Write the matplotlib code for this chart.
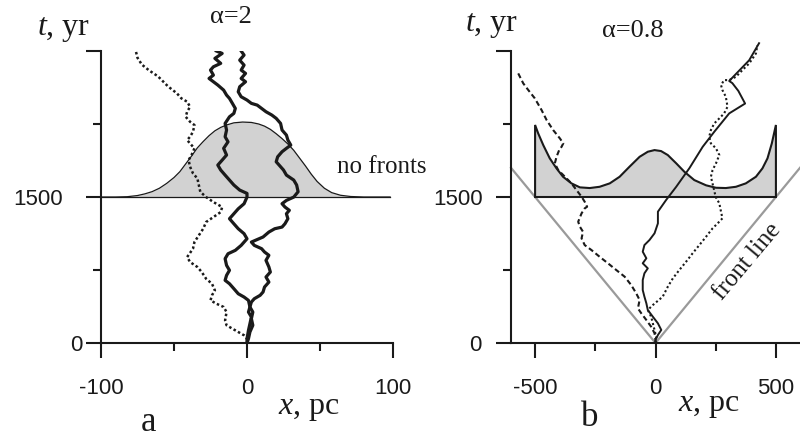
import matplotlib.pyplot as plt

plt.rcParams["font.family"] = ["Liberation Sans", "DejaVu Sans"]
plt.rcParams["mathtext.fontset"] = "custom"
plt.rcParams["mathtext.rm"] = "Liberation Serif"
plt.rcParams["mathtext.it"] = "Liberation Serif:italic"

# ---- panel a (alpha = 2): three walks, x in pc, t in yr (read from the top down)
a_dot_x = [-76, -75, -72, -67, -61, -54, -48, -45, -41, -39, -41, -42, -39, -36, -37, -39, -41, -38, -36,
           -38, -40, -39, -37, -34, -33, -32, -28, -23, -17, -18, -23, -28, -30, -33, -36, -37, -41, -39,
           -34, -31, -28, -24, -22, -24, -25, -21, -16, -14, -15, -14, -10, -6, -2, 0, 0]
a_dot_t = [2990, 2930, 2860, 2800, 2740, 2635, 2565, 2514, 2479, 2427, 2376, 2324, 2273, 2239, 2170, 2119,
           2085, 2033, 2000, 1931, 1879, 1811, 1743, 1691, 1623, 1554, 1499, 1448, 1397, 1345, 1294, 1243,
           1174, 1106, 1037, 969, 883, 832, 781, 729, 660, 609, 541, 490, 438, 404, 370, 318, 233, 182,
           147, 113, 79, 44, 0]

a_mid_x = [-21, -17, -22, -18, -23, -25, -23, -26, -23, -20, -16, -14, -12, -10, -8, -9, -12, -15, -14, -15,
           -13, -16, -14, -17, -20, -18, -15, -12, -9, -5, 0, 0, -2, -6, -9, -12, -9, -6, -2, 0, -4, -8,
           -13, -15, -14, -12, -14, -15, -12, -9, -6, -2, 1, 2, 1, 3, 2, 1, 0, 0]
a_mid_t = [3000, 2975, 2924, 2873, 2838, 2804, 2752, 2718, 2684, 2650, 2598, 2547, 2513, 2462, 2410, 2359,
           2324, 2256, 2188, 2119, 2067, 2000, 1931, 1879, 1828, 1777, 1725, 1674, 1623, 1571, 1537, 1499,
           1431, 1379, 1328, 1277, 1225, 1174, 1123, 1071, 1003, 952, 917, 866, 798, 747, 695, 644, 609,
           558, 506, 472, 438, 370, 318, 267, 198, 130, 44, 0]

a_right_x = [-4, -2, -5, -2, -4, -1, -4, -1, -5, -6, -4, 0, 3, 7, 10, 13, 17, 20, 23, 24, 27, 28, 30, 27,
             24, 21, 20, 23, 25, 27, 32, 34, 35, 32, 27, 24, 26, 29, 27, 28, 26, 24, 19, 15, 11, 3, 5, 10,
             12, 15, 13, 15, 16, 13, 15, 12, 11, 9, 5, 3, 2, 4, 3, 4, 2, 1, 0]
a_right_t = [3000, 2958, 2906, 2855, 2804, 2770, 2718, 2684, 2633, 2581, 2530, 2496, 2462, 2444, 2410, 2376,
             2342, 2308, 2256, 2188, 2136, 2085, 2033, 2000, 1965, 1913, 1862, 1811, 1777, 1725, 1674, 1623,
             1554, 1499, 1465, 1431, 1397, 1363, 1328, 1277, 1225, 1191, 1174, 1140, 1089, 1037, 1003, 969,
             935, 901, 849, 781, 729, 678, 626, 575, 524, 490, 455, 421, 370, 318, 250, 182, 113, 44, 0]

# distribution drawn on the t = 1500 line
a_base_t = 1500
a_dist_x = [-100, -90, -82, -75, -70, -65, -60, -55, -50, -46, -42, -38, -34, -30, -26, -22, -18, -14, -9,
            -3, 3, 8, 12, 16, 20, 24, 28, 32, 36, 40, 44, 48, 53, 58, 64, 71, 80, 90, 98]
a_dist_t = [1500, 1500, 1503, 1515, 1532, 1555, 1590, 1640, 1700, 1760, 1840, 1920, 2005, 2070, 2130, 2180,
            2215, 2240, 2262, 2270, 2266, 2250, 2228, 2195, 2150, 2100, 2045, 1980, 1900, 1820, 1735, 1660,
            1590, 1545, 1518, 1505, 1500, 1500, 1500]

# ---- panel b (alpha = 0.8)
b_dash_x = [-570, -549, -528, -501, -473, -452, -425, -397, -383, -390, -400, -411, -418, -404, -376,
            -349, -328, -307, -294, -284, -294, -307, -321, -314, -301, -307, -294, -266, -232, -197,
            -163, -128, -101, -80, -66, -73, -59, -38, -18, -4, 0, 0]
b_dash_t = [2770, 2667, 2598, 2513, 2393, 2290, 2188, 2102, 2051, 2016, 1982, 1913, 1845, 1777, 1708,
            1640, 1571, 1503, 1451, 1400, 1383, 1332, 1246, 1195, 1143, 1075, 1006, 955, 886, 818, 750,
            681, 596, 510, 442, 356, 305, 236, 167, 100, 31, 0]

b_solid_x = [0, 0, 10, 24, 10, -11, -32, -38, -46, -53, -53, -46, -32, -53, -38, -53, -46, -25, -4, 10,
             10, 44, 86, 141, 196, 244, 306, 372, 344, 319, 306, 389, 430]
b_solid_t = [0, 31, 82, 134, 202, 270, 339, 408, 476, 544, 647, 716, 767, 819, 870, 938, 1006, 1058,
             1127, 1229, 1349, 1469, 1605, 1797, 2016, 2170, 2359, 2460, 2590, 2670, 2692, 2905, 3080]

b_dot_x = [0, 3, -18, -32, -11, 30, 51, 72, 99, 127, 154, 182, 210, 237, 258, 278, 272, 265, 250, 240,
           230, 237, 251, 265, 251, 230, 223, 230, 244, 265, 285, 299, 292, 278, 272, 285, 306, 334,
           361, 389, 417, 423]
b_dot_t = [0, 65, 270, 339, 390, 476, 578, 664, 750, 835, 921, 1006, 1092, 1178, 1229, 1281, 1349, 1435,
           1500, 1606, 1708, 1777, 1845, 1931, 2000, 2051, 2119, 2188, 2256, 2308, 2359, 2427, 2530,
           2598, 2650, 2701, 2701, 2735, 2804, 2872, 2975, 3060]

b_dist_x = [-500, -500, -487, -466, -439, -411, -384, -349, -314, -273, -232, -190, -149, -108, -66, -32,
            -4, 23, 51, 86, 120, 161, 210, 251, 292, 334, 375, 417, 444, 465, 483, 500, 500]
b_dist_t = [1500, 2240, 2153, 2033, 1897, 1794, 1708, 1640, 1599, 1592, 1605, 1640, 1708, 1811, 1913,
            1965, 1982, 1972, 1931, 1846, 1759, 1674, 1620, 1595, 1592, 1605, 1640, 1708, 1794, 1897,
            2051, 2240, 1500]

front_x = [-600, 0, 600]
front_t = [1800, 0, 1800]

W, H = 800, 438
SERIF = "Liberation Serif"
INK = "#1a1a1a"
FILL = "#d2d2d2"


def fx(px):
    return px / W


def fy(py):
    return 1 - py / H


def style_axes(ax, xlim, xmajor, xlabels, xminor, ypads):
    ax.set_xlim(*xlim)
    ax.set_ylim(0, 3000)
    ax.patch.set_visible(False)
    for s in ("top", "right"):
        ax.spines[s].set_visible(False)
    for s in ("left", "bottom"):
        ax.spines[s].set_linewidth(1.5)
        ax.spines[s].set_color(INK)
    ax.set_xticks(xmajor)
    ax.set_xticklabels(xlabels)
    ax.set_xticks(xminor, minor=True)
    ax.set_yticks([0, 1500, 3000])
    ax.set_yticklabels(["0", "1500", ""])
    ax.set_yticks([750, 2250], minor=True)
    ax.tick_params(which="major", direction="out", length=10.5, width=1.5, color=INK,
                   labelsize=16, labelcolor=INK)
    ax.tick_params(which="minor", direction="out", length=5.5, width=1.5, color=INK)
    ax.tick_params(axis="x", which="major", pad=15)
    for tick, pad in zip(ax.yaxis.get_major_ticks(), ypads):
        tick.set_pad(pad)


fig = plt.figure(figsize=(8, 4.38), dpi=100)
ax_a = fig.add_axes([fx(101), fy(343), 292 / W, 292 / H])
ax_b = fig.add_axes([fx(511), fy(343), 289 / W, 292 / H])

# panel a
ax_a.fill_between(a_dist_x, a_base_t, a_dist_t, color=FILL, lw=0, zorder=1)
ax_a.plot(a_dist_x, a_dist_t, color=INK, lw=0.9, zorder=2)
ax_a.plot([a_dist_x[0], a_dist_x[-1]], [a_base_t, a_base_t], color=INK, lw=0.9, zorder=2)
ax_a.plot(a_dot_x, a_dot_t, color=INK, lw=1.8, ls=(0, (1, 1)), zorder=3)
ax_a.plot(a_mid_x, a_mid_t, color=INK, lw=2.3, zorder=3, solid_joinstyle="round")
ax_a.plot(a_right_x, a_right_t, color=INK, lw=2.3, zorder=3, solid_joinstyle="round")
style_axes(ax_a, (-100, 100), [-100, 0, 100], ["-100", "0", "100"], [-50, 50], [3, 17, 3])

# panel b
ax_b.plot(front_x, front_t, color="#9a9a9a", lw=1.6, zorder=1, clip_on=False)
ax_b.fill(b_dist_x, b_dist_t, facecolor=FILL, edgecolor=INK, lw=1.5, zorder=2)
ax_b.plot(b_dash_x, b_dash_t, color=INK, lw=1.5, ls=(0, (2.5, 1.5)), zorder=3, clip_on=False)
ax_b.plot(b_dot_x, b_dot_t, color=INK, lw=1.5, ls=(0, (1, 1.2)), zorder=3, clip_on=False)
ax_b.plot(b_solid_x, b_solid_t, color=INK, lw=1.4, zorder=3, clip_on=False)
style_axes(ax_b, (-600, 600), [-500, 0, 500], ["-500", "0", "500"], [-250, 250], [11, 10, 10])

# labels
fig.text(fx(37), fy(35), "$t$, yr", fontsize=23, family=SERIF, color=INK, va="baseline")
fig.text(fx(465), fy(31), "$t$, yr", fontsize=23, family=SERIF, color=INK, va="baseline")
fig.text(fx(210), fy(23), "α=2", fontsize=19, family=SERIF, color=INK, va="baseline")
fig.text(fx(602), fy(37), "α=0.8", fontsize=19, family=SERIF, color=INK, va="baseline")
fig.text(fx(337), fy(173), "no fronts", fontsize=18, family=SERIF, color=INK, va="baseline")
fig.text(fx(747), fy(262), "front line", fontsize=18, family=SERIF, color=INK,
         rotation=50, ha="center", va="center", rotation_mode="anchor")
fig.text(fx(278), fy(414), "$x$, pc", fontsize=23, family=SERIF, color=INK, va="baseline")
fig.text(fx(678), fy(411), "$x$, pc", fontsize=23, family=SERIF, color=INK, va="baseline")
fig.text(fx(148), fy(431), "a", fontsize=25, family=SERIF, color=INK, ha="center", va="baseline")
fig.text(fx(590), fy(426), "b", fontsize=25, family=SERIF, color=INK, ha="center", va="baseline")

fig.savefig("out.png", dpi=100)
